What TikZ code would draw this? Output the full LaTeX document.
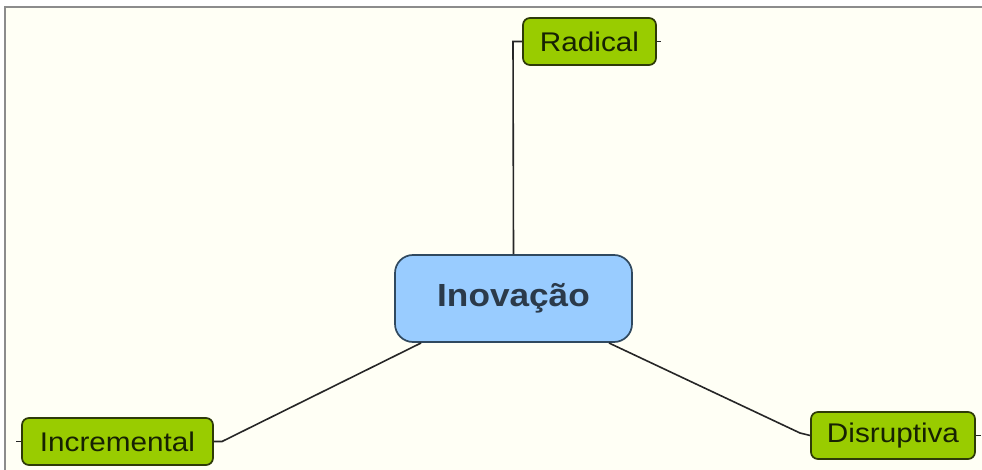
\documentclass[tikz,border=0pt]{standalone}
\usepackage{fontspec}
\setmainfont[FakeStretch=1.1]{Liberation Sans}
\definecolor{bgivory}{HTML}{FFFFF5}
\definecolor{framegray}{HTML}{8C8C8C}
\definecolor{leafgreen}{HTML}{99CC00}
\definecolor{leafedge}{HTML}{2E3B08}
\definecolor{leaftext}{HTML}{172203}
\definecolor{rootblue}{HTML}{99CCFF}
\definecolor{rootedge}{HTML}{30495F}
\definecolor{roottext}{HTML}{2B3A4A}
\tikzset{
  leaf/.style={draw=leafedge, line width=1.7pt, fill=leafgreen, rounded corners=7pt,
    minimum height=47pt, inner sep=0pt, text=leaftext,
    font=\fontsize{27}{32}\selectfont},
  root/.style={draw=rootedge, line width=1.7pt, fill=rootblue, rounded corners=18pt,
    minimum width=237pt, minimum height=87pt, inner sep=0pt, text=roottext,
    font=\fontsize{32}{38}\selectfont\bfseries},
  link/.style={draw=black!85, line width=1.6pt}
}
\begin{document}
\begin{tikzpicture}[x=1pt,y=-1pt]
\useasboundingbox (0,0) rectangle (982,470);
\fill[white] (0,0) rectangle (982,470);
\fill[bgivory] (5,7) rectangle (982,470);
\draw[framegray, line width=2pt] (5,470) -- (5,7) -- (982,7);
% nodes
\node[root] (ino) at (513.5,298.5) {Inovação};
\node[leaf, minimum width=133pt] (rad) at (589.5,41.5) {Radical};
\node[leaf, minimum width=191pt] (inc) at (117.5,441.5) {Incremental};
\node[leaf, minimum width=164pt] (dis) at (893,435.5) {Disruptiva};
% helper coordinates
\coordinate (radcorner) at (513,41.5);
\coordinate (radstub) at (661,41.5);
\coordinate (incL) at (16,441.5);
\coordinate (incR) at (222,441.5);
\coordinate (disL) at (800,433);
\coordinate (disR) at (981,435.5);
\coordinate (inoBL) at (421,343);
\coordinate (inoBR) at (609,343);
% connectors
\draw[link] (ino.north) -- (radcorner) -- (rad.west);
\draw[link] (rad.east) -- (radstub);
\draw[link] (incL) -- (inc.west);
\draw[link] (inc.east) -- (incR) -- (inoBL);
\draw[link] (inoBR) -- (disL) -- (dis.west);
\draw[link] (dis.east) -- (disR);
\end{tikzpicture}
\end{document}
